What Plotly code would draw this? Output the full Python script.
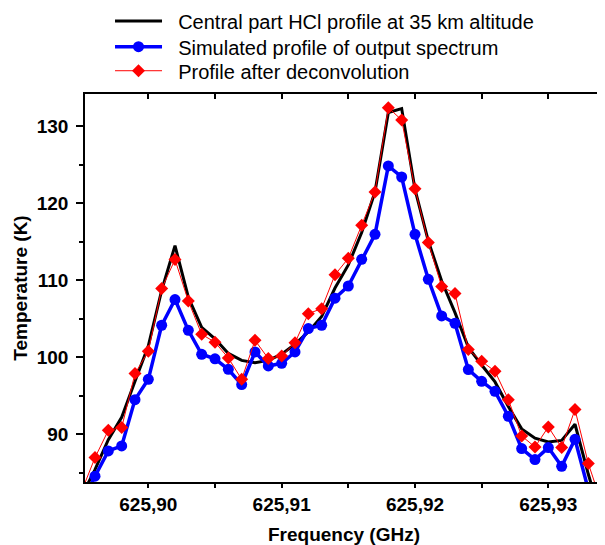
import plotly.graph_objects as go

freq = [625.895, 625.896, 625.897, 625.898, 625.899, 625.900, 625.901, 625.902,
        625.903, 625.904, 625.905, 625.906, 625.907, 625.908, 625.909, 625.910,
        625.911, 625.912, 625.913, 625.914, 625.915, 625.916, 625.917, 625.918,
        625.919, 625.920, 625.921, 625.922, 625.923, 625.924, 625.925, 625.926,
        625.927, 625.928, 625.929, 625.930, 625.931, 625.932, 625.933, 625.934]

hcl_profile = [82.0, 85.4, 89.3, 92.2, 96.9, 101.5, 108.7, 114.5,
               107.8, 103.9, 102.4, 100.5, 99.6, 99.3, 99.6, 100.4,
               101.7, 103.3, 105.3, 109.0, 112.0, 116.2, 121.5, 131.8,
               132.3, 121.8, 115.1, 109.9, 105.8, 101.3, 99.0, 96.8,
               93.6, 90.7, 89.5, 89.0, 89.2, 91.3, 84.8, 79.0]

simulated = [81.0, 84.55, 87.83, 88.48, 94.5, 97.14, 104.16, 107.5,
             103.5, 100.39, 99.8, 98.44, 96.45, 100.69, 98.87, 99.22,
             100.69, 103.73, 104.16, 107.68, 109.26, 112.73, 115.97, 124.85,
             123.42, 115.97, 110.13, 105.37, 104.42, 98.4, 96.88, 95.58,
             92.34, 88.14, 86.71, 88.27, 85.84, 89.35, 82.8, 78.0]

deconvolved = [82.6, 86.97, 90.52, 90.87, 97.88, 100.78, 108.92, 112.69,
               107.31, 102.99, 101.95, 99.91, 97.14, 102.2, 99.83, 100.17,
               101.9, 105.67, 106.32, 110.72, 112.86, 117.14, 121.47, 132.43,
               130.82, 121.9, 114.9, 109.18, 108.27, 101.0, 99.48, 98.18,
               94.5, 89.78, 88.35, 90.95, 88.27, 93.21, 86.19, 81.0]

series_names = ["Central part HCl profile at 35 km altitude",
                "Simulated profile of output spectrum",
                "Profile after deconvolution"]

x_ticks = [625.90, 625.91, 625.92, 625.93]
y_ticks = [90, 100, 110, 120, 130]
x_range = [625.89525, 625.9341]
y_range = [83.8, 134.2]

FONT = "Liberation Sans, Arial, sans-serif"
PAD = "\u00a0\u00a0"  # gap between legend symbol and label

fig = go.Figure()
fig.add_trace(go.Scatter(
    x=freq, y=hcl_profile, mode="lines",
    name=PAD + series_names[0], legend="legend",
    line=dict(color="black", width=3)))
fig.add_trace(go.Scatter(
    x=freq, y=simulated, mode="lines+markers",
    name=PAD + series_names[1], legend="legend2",
    line=dict(color="#0000FF", width=3.5),
    marker=dict(symbol="circle", size=11, color="#0000FF")))
fig.add_trace(go.Scatter(
    x=freq, y=deconvolved, mode="lines+markers",
    name=PAD + series_names[2], legend="legend3",
    line=dict(color="#FF0000", width=1),
    marker=dict(symbol="diamond", size=10, color="#FF0000")))
# empty trace so the mirrored (top/right) axes are drawn
fig.add_trace(go.Scatter(x=[], y=[], xaxis="x2", yaxis="y2", showlegend=False,
                         hoverinfo="skip"))

axis_common = dict(showline=True, linecolor="black", linewidth=1.5,
                   showgrid=False, zeroline=False, automargin=False)

legend_common = dict(x=0.0483, xanchor="left", yanchor="middle",
                     font=dict(family=FONT, size=20, color="black"),
                     bgcolor="rgba(0,0,0,0)", itemwidth=47)

fig.update_layout(
    width=597, height=537,
    margin=dict(l=77, r=2, t=86, b=63, autoexpand=False),
    paper_bgcolor="white", plot_bgcolor="white",
    separators=", ",
    font=dict(family=FONT, color="black"),
    showlegend=True,
    legend=dict(**legend_common, y=1.188),
    legend2=dict(**legend_common, y=1.1219),
    legend3=dict(**legend_common, y=1.060),
    xaxis=dict(
        **axis_common, range=x_range, tickvals=x_ticks, tickformat=".2f",
        tickangle=0,
        ticks="outside", ticklen=4, tickwidth=1.5, tickcolor="black",
        minor=dict(dtick=0.005, tick0=625.90, ticks="outside", ticklen=4,
                   tickwidth=1.5, tickcolor="black"),
        tickfont=dict(family=FONT, size=19, weight="bold"),
        title=dict(text="Frequency (GHz)", standoff=14,
                   font=dict(family=FONT, size=19, weight="bold"))),
    yaxis=dict(
        **axis_common, range=y_range, tickvals=y_ticks,
        ticks="outside", ticklen=7, tickwidth=1.5, tickcolor="black",
        ticklabelstandoff=4,
        minor=dict(dtick=5, tick0=90, ticks="outside", ticklen=4,
                   tickwidth=1.5, tickcolor="black"),
        tickfont=dict(family=FONT, size=19, weight="bold"),
        title=dict(text="Temperature (K)", standoff=4,
                   font=dict(family=FONT, size=19, weight="bold"))),
    xaxis2=dict(
        **axis_common, range=x_range, overlaying="x", side="top", anchor="y",
        tickvals=x_ticks, showticklabels=False,
        ticks="inside", ticklen=5, tickwidth=1.5, tickcolor="black",
        minor=dict(dtick=0.005, tick0=625.90, ticks="inside", ticklen=5,
                   tickwidth=1.5, tickcolor="black")),
    yaxis2=dict(
        **axis_common, range=y_range, overlaying="y", side="right", anchor="x",
        tickvals=y_ticks, showticklabels=False,
        ticks="inside", ticklen=6, tickwidth=1.5, tickcolor="black",
        minor=dict(dtick=5, tick0=90, ticks="inside", ticklen=6,
                   tickwidth=1.5, tickcolor="black")),
)

fig.write_html("out.html")
